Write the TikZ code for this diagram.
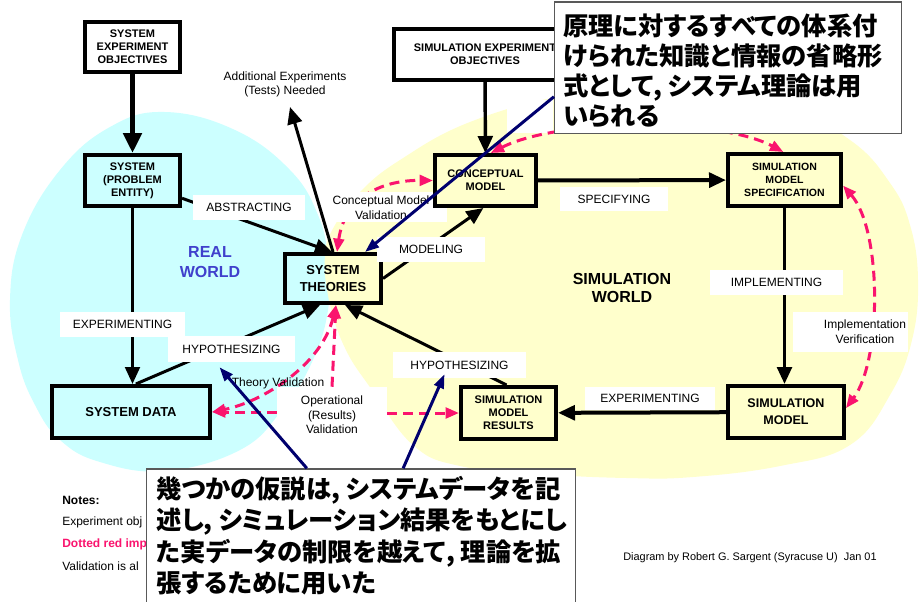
\documentclass[tikz,border=0pt]{standalone}
\usepackage{fontspec}
\setmainfont{Liberation Sans}
\newfontfamily\jpfont[RawFeature=+palt]{Noto Sans CJK JP}
\usetikzlibrary{arrows.meta,calc}
\definecolor{cyanbg}{RGB}{204,255,255}
\definecolor{yellowbg}{RGB}{255,255,204}
\definecolor{pinkc}{RGB}{250,20,110}
\definecolor{navyc}{RGB}{0,0,110}
\definecolor{realblue}{RGB}{64,64,204}
\pgfdeclarelayer{bg}
\pgfdeclarelayer{lines}
\pgfdeclarelayer{fg}
\pgfsetlayers{bg,lines,main,fg}
\begin{document}
\begin{tikzpicture}[x=0.75pt,y=-0.75pt,
  box/.style={draw=black,line width=3pt,align=center,inner sep=0pt,font=\bfseries\fontsize{8.25}{9.75}\selectfont},
  lbl/.style={fill=white,inner sep=0pt,font=\fontsize{9}{11}\selectfont,align=center},
  txt/.style={inner sep=0pt,font=\fontsize{9}{11}\selectfont,align=center},
  conn/.style={line width=2.25pt,-{Triangle[length=12.75pt,width=11pt]}},
  pd/.style={pinkc,line width=2.25pt,dash pattern=on 7.5pt off 4.5pt},
  ptip/.style={-{Triangle[length=10pt,width=8pt]}},
  vv/.style={pd,{Triangle[length=10pt,width=8pt]}-{Triangle[length=10pt,width=8pt]}},
  callln/.style={navyc,line width=2.25pt,-{Triangle[length=10.5pt,width=7.5pt]}},
  callbox/.style={draw=black!65,line width=1.1pt,fill=white,inner sep=0pt},
  jp/.style={anchor=north west,inner sep=0pt,align=left,font=\jpfont\bfseries\fontsize{19}{22.5}\selectfont}
]
\useasboundingbox (0,0) rectangle (921,601);

% ---------------- backgrounds
\begin{pgfonlayer}{bg}
\fill[white] (0,0) rectangle (921,601);
\fill[cyanbg] plot[smooth cycle, tension=0.7] coordinates {(165,112) (235,130) (290,170) (318,215) (328,260) (328,310) (312,362) (282,410) (240,450) (165,471) (100,462) (60,440) (35,405) (18,360) (10,300) (22,235) (60,170) (110,127)};
\fill[yellowbg] plot[smooth cycle, tension=0.7] coordinates {(335,225) (360,192) (400,160) (470,122) (567,95) (660,87) (780,105) (850,140) (890,183) (910,225) (918,280) (912,340) (890,395) (850,445) (780,466) (693,477) (627,478) (540,474) (460,466) (413,445) (372,390) (345,348) (329,300) (325,255)};
\fill[white] (507,100) rectangle (553,133);
\end{pgfonlayer}

% ---------------- label drawn under the boxes
\fill[white] (327,192) rectangle (447,222);
\node[txt] (cmvtxt) at (381,207.5) {Conceptual Model\\Validation};

% ---------------- boxes
\node[box,fill=white,minimum width=71.25pt,minimum height=37.5pt] (seo) at (132.5,47) {SYSTEM\\EXPERIMENT\\OBJECTIVES};
\node[box,fill=cyanbg,minimum width=71.25pt,minimum height=38.25pt] (sys) at (132.5,180.5) {SYSTEM\\(PROBLEM\\ENTITY)};
\node[box,fill=white,minimum width=136.5pt,minimum height=38.25pt] (simeo) at (485,54.5) {SIMULATION EXPERIMENT\\OBJECTIVES};
\node[box,fill=yellowbg,minimum width=75.75pt,minimum height=38.25pt] (cm) at (485.5,180.5) {CONCEPTUAL\\MODEL};
\node[box,fill=yellowbg,minimum width=84.75pt,minimum height=39pt,font=\bfseries\fontsize{7.9}{10}\selectfont] (spec) at (784.5,180) {SIMULATION\\MODEL\\SPECIFICATION};
\node[box,minimum width=72pt,minimum height=36.75pt,font=\bfseries\fontsize{9.75}{12.75}\selectfont] (st) at (333,278.5) {SYSTEM\\THEORIES};
\node[box,fill=cyanbg,minimum width=118.5pt,minimum height=39pt,font=\bfseries\fontsize{9.75}{12}\selectfont] (sdata) at (131,412) {SYSTEM DATA};
\node[box,fill=yellowbg,minimum width=71.25pt,minimum height=39pt] (res) at (508.5,413) {SIMULATION\\MODEL\\RESULTS};
\node[box,fill=yellowbg,minimum width=87pt,minimum height=39pt,font=\bfseries\fontsize{9.4}{12.75}\selectfont] (sm) at (786,412) {SIMULATION\\MODEL};

% ---------------- world titles
\node[font=\bfseries\fontsize{12}{15}\selectfont,text=realblue,align=center,inner sep=0pt] (rw) at (210,262) {REAL\\WORLD};
\node[font=\bfseries\fontsize{12}{13.5}\selectfont,align=center,inner sep=0pt] (sw) at (622,288) {SIMULATION\\WORLD};

% ---------------- connector labels
\node[lbl,minimum width=84pt,minimum height=18.75pt] (abstr) at (249,207.5) {ABSTRACTING};
\node[lbl,minimum width=93.75pt,minimum height=18.75pt] (exp1) at (122.5,324.5) {EXPERIMENTING};
\node[lbl,minimum width=95.25pt,minimum height=19.5pt] (hyp1) at (231.5,349) {HYPOTHESIZING};
\node[lbl,minimum width=81pt,minimum height=18.75pt] (modl) at (431,249.5) {MODELING};
\node[lbl,minimum width=81pt,minimum height=18pt] (specl) at (614,199) {SPECIFYING};
\node[lbl,minimum width=99.75pt,minimum height=18.75pt] (impl) at (776.5,282.5) {IMPLEMENTING};
\node[lbl,minimum width=97.5pt,minimum height=17.25pt] (exp2) at (650,398.5) {EXPERIMENTING};
\node[lbl,minimum width=99.75pt,minimum height=19.5pt] (hyp2) at (459.5,365) {HYPOTHESIZING};
\fill[white] (793,312) rectangle (908,352);
\node[txt] (implv) at (865,332) {Implementation\\Verification};
\node[fill=white,inner sep=0pt,minimum width=82.5pt,minimum height=34.5pt] (opval) at (332,410) {};
\node[txt] (opvaltxt) at (332,415) {Operational\\(Results)\\Validation};
\node[txt] (thval) at (278,383) {Theory Validation};
\node[txt] (addexp) at (285,84.5) {Additional Experiments\\(Tests) Needed};
\coordinate (addtip) at (290,107);

% ---------------- connectors
\begin{pgfonlayer}{lines}
\draw[line width=3.75pt,-{Triangle[length=15pt,width=13.5pt]}] (seo) -- (sys);
\draw[conn,line width=2.6pt] (simeo) -- (cm);
\draw[conn,line width=3pt] (cm) -- (spec);
\draw[conn,line width=2.6pt] (spec.south) -- (spec.south |- sm.north);
\draw[conn,line width=3pt] (sm) -- (res);
\draw[conn] (sys.south) -- (sys.south |- sdata.north);
\draw[conn] (sys) -- ($(st.north west)!0.49!(st.north east)$);
\draw[conn] ($(st.north west)!0.5!(st.north east)$) -- (addtip);
\draw[conn] (st.east) -- ($(cm.south west)!0.48!(cm.south east)$);
\draw[conn] ($(sdata.north west)!0.53!(sdata.north east)$) -- ($(st.south west)!0.37!(st.south east)$);
\draw[conn] ($(res.north west)!0.48!(res.north east)$) -- ($(st.south west)!0.62!(st.south east)$);
% dashed red V&V
\draw[vv] ($(st.north west)!0.54!(st.north east)$) .. controls (345,195) and (385,180) .. (cm.west);
\draw[vv] ($(cm.north west)!0.55!(cm.north east)$) .. controls (560,118) and (720,118) .. ($(spec.north west)!0.49!(spec.north east)$);
\draw[vv] ($(spec.north east)!0.6!(spec.south east)$) .. controls (882,230) and (882,360) .. ($(sm.north east)!0.43!(sm.south east)$);
\draw[vv] ($(st.south west)!0.53!(st.south east)$) .. controls (322,365) and (262,402) .. (sdata.east);
\draw[pd,ptip] (opval.north) -- ($(st.south west)!0.53!(st.south east)$);
\draw[pd,ptip] (opval.west |- sdata.east) -- (sdata.east);
\draw[pd,ptip] (opval.east |- res.west) -- (res.west);
\end{pgfonlayer}

% ---------------- notes
\node[anchor=west,inner sep=0pt,font=\bfseries\fontsize{9}{11}\selectfont] (n0) at (62,500) {Notes:};
\node[anchor=west,inner sep=0pt,font=\fontsize{9}{11}\selectfont] (n1) at (62,522) {Experiment obj};
\node[anchor=west,inner sep=0pt,font=\bfseries\fontsize{9}{11}\selectfont,text=pinkc] (n2) at (62,544) {Dotted red imp};
\node[anchor=west,inner sep=0pt,font=\fontsize{9}{11}\selectfont] (n3) at (62,566) {Validation is al};
\node[anchor=west,inner sep=0pt,font=\fontsize{8.2}{10}\selectfont] (credit) at (623,558) {Diagram by Robert G. Sargent (Syracuse U)\ \ Jan 01};

% ---------------- callouts
\begin{pgfonlayer}{fg}
\node[callbox,minimum width=260pt,minimum height=98.6pt] (c1) at (728,67.5) {};
\node[callbox,minimum width=321.4pt,minimum height=105pt] (c2) at (361,539) {};
\draw[callln] ($(c1.north west)!0.72!(c1.south west)$) -- ($(st.north west)!0.82!(st.north east)$);
\draw[callln] ($(c2.north west)!0.374!(c2.north east)$) -- ($(hyp1.south)+(-12,5)$);
\draw[callln] ($(c2.north west)!0.598!(c2.north east)$) -- ($(hyp2.south)+(-15,-4)$);
\node[jp] (t1) at (563,14) {原理に対するすべての体系付\\けられた知識と情報の省略形\\式として, システム理論は用\\いられる};
\node[jp,font=\jpfont\bfseries\fontsize{19}{23.6}\selectfont] (t2) at (156,476) {幾つかの仮説は, システムデータを記\\述し, シミュレーション結果をもとにし\\た実データの制限を越えて, 理論を拡\\張するために用いた};
\end{pgfonlayer}
\end{tikzpicture}
\end{document}
